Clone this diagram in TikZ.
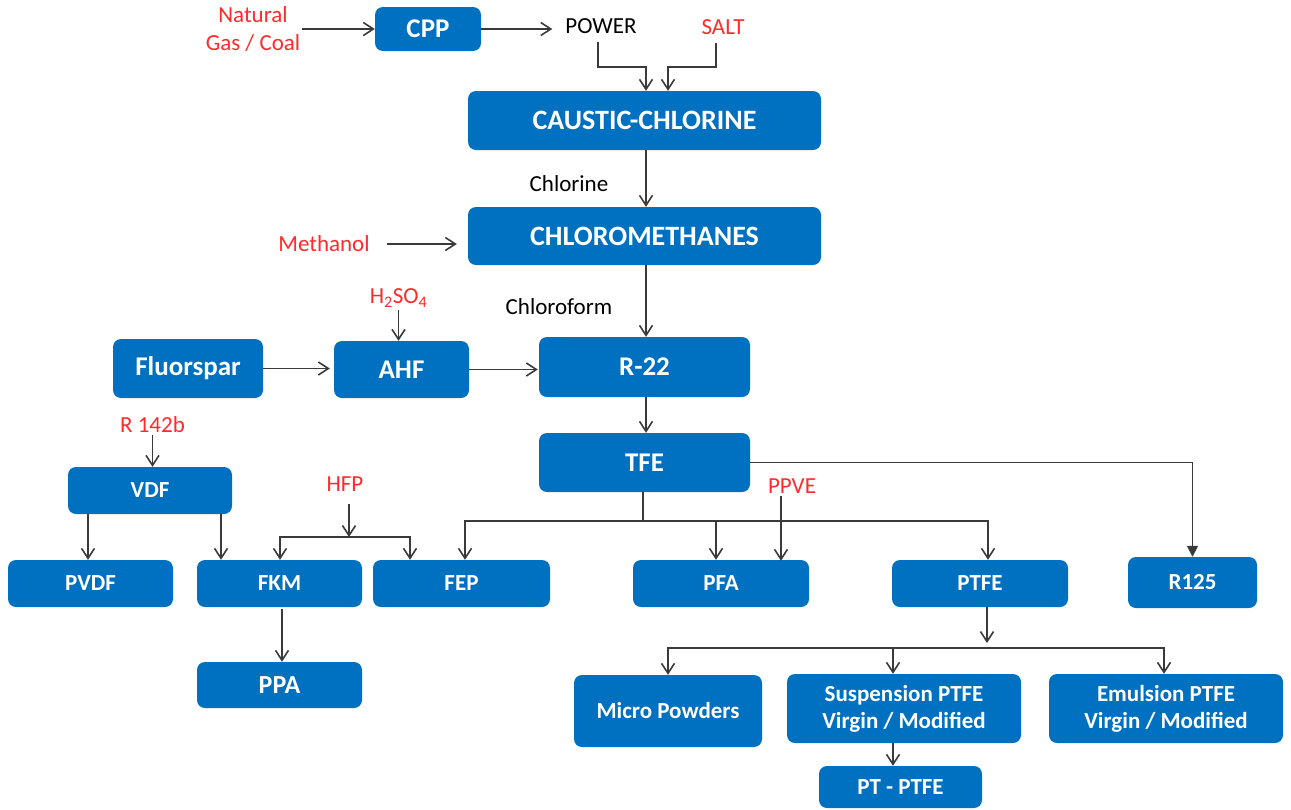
\documentclass[tikz,border=0pt]{standalone}
\usepackage{fontspec}
\setmainfont{Carlito}
\usetikzlibrary{arrows.meta}
\definecolor{boxblue}{HTML}{0070C0}
\definecolor{lblred}{HTML}{FF2A2A}
\definecolor{linegray}{HTML}{3A3A3A}
\begin{document}
\begin{tikzpicture}[x=1pt,y=-1pt,
  box/.style={fill=boxblue, rounded corners=8pt, text=white, inner sep=0pt, align=center,
    font=\bfseries\fontsize{23}{27}\selectfont},
  bigbox/.style={box, font=\bfseries\fontsize{28}{32}\selectfont},
  midbox/.style={box, font=\bfseries\fontsize{27}{31}\selectfont},
  lab/.style={inner sep=2pt, align=center, font=\fontsize{23}{28}\selectfont, text=black},
  redlab/.style={lab, text=lblred},
  conn/.style={draw=linegray, line width=1.6pt},
  arr/.style={conn, -{Straight Barb[length=10pt,width=13pt,line width=1.6pt]}},
  farr/.style={conn, -{Triangle[length=11pt,width=11pt]}},
]
\useasboundingbox (0,0) rectangle (1291,809);

% boxes
\node[midbox, minimum width=106, minimum height=44] (cpp) at (428,29) {CPP};
\node[bigbox, minimum width=353, minimum height=59] (caustic) at (644.5,120.5) {CAUSTIC-CHLORINE};
\node[bigbox, minimum width=353, minimum height=58] (chloro) at (644.5,236) {CHLOROMETHANES};
\node[midbox, minimum width=211, minimum height=60] (r22) at (644.5,367) {R-22};
\node[midbox, minimum width=150, minimum height=59] (fl) at (188,368.5) {Fluorspar};
\node[midbox, minimum width=135, minimum height=57] (ahf) at (401.5,369.5) {AHF};
\node[midbox, minimum width=211, minimum height=59] (tfe) at (644.5,462.5) {TFE};
\node[box, minimum width=164, minimum height=47] (vdf) at (150,490.5) {VDF};
\node[box, minimum width=165, minimum height=47] (pvdf) at (90.5,583.5) {PVDF};
\node[box, minimum width=165, minimum height=47] (fkm) at (279.5,583.5) {FKM};
\node[box, minimum width=177, minimum height=47] (fep) at (461.5,583.5) {FEP};
\node[box, minimum width=176, minimum height=47] (pfa) at (721,583.5) {PFA};
\node[box, minimum width=176, minimum height=47] (ptfe) at (980,583.5) {PTFE};
\node[box, minimum width=129, minimum height=51] (r125) at (1192.5,582.5) {R125};
\node[midbox, font=\bfseries\fontsize{26}{30}\selectfont, minimum width=165, minimum height=46] (ppa) at (279.5,685) {PPA};
\node[box, minimum width=188, minimum height=72] (micro) at (668,711) {Micro Powders};
\node[box, minimum width=234, minimum height=69] (susp) at (904,708.5) {Suspension PTFE\\Virgin / Modified};
\node[box, minimum width=234, minimum height=69] (emul) at (1166,708.5) {Emulsion PTFE\\Virgin / Modified};
\node[box, minimum width=163, minimum height=42] (ptpt) at (900.5,787) {PT - PTFE};

% labels
\node[redlab] (ng) at (253,29) {Natural\\Gas / Coal};
\node[lab] (power) at (601,26) {POWER};
\node[redlab] (salt) at (723,27) {SALT};
\node[lab] (chlorine) at (569,184) {Chlorine};
\node[redlab] (meth) at (324,244) {Methanol};
\node[lab] (chf) at (559,307) {Chloroform};
\node[redlab] (h2so4) at (398.5,298) {H\textsubscript{2}SO\textsubscript{4}};
\node[redlab] (r142) at (152.5,425) {R 142b};
\node[redlab] (hfp) at (345,484) {HFP};
\node[redlab] (ppve) at (792,486) {PPVE};

% junctions
\coordinate (pw) at (646,67);
\coordinate (sj) at (668,67);
\coordinate (tb) at (643,521);
\coordinate (hb) at (349,537);
\coordinate (pb) at (987,648);

% connectors
\draw[arr] (ng.east) -- (ng.east -| cpp.west);
\draw[arr, shorten >=11pt] (cpp.east) -- (cpp.east -| power.west);
\draw[arr, shorten <=6pt] ([xshift=-3pt]power.south) |- (pw) -- (pw |- caustic.north);
\draw[arr, shorten <=6pt] ([xshift=-7pt]salt.south) |- (sj) -- (sj |- caustic.north);
\draw[arr] ([xshift=1.5pt]caustic.south) -- ([xshift=1.5pt]chloro.north);
\draw[arr, shorten <=15pt, shorten >=11pt] (meth.east) -- (meth.east -| chloro.west);
\draw[arr] ([xshift=1.5pt]chloro.south) -- ([xshift=1.5pt]r22.north);
\draw[arr] (h2so4.south) -- (h2so4.south |- ahf.north);
\draw[arr, shorten >=4pt] (fl.east) -- (fl.east -| ahf.west);
\draw[arr, shorten >=1pt] (ahf.east) -- (ahf.east -| r22.west);
\draw[arr] ([xshift=1.5pt]r22.south) -- ([xshift=1.5pt]tfe.north);
\draw[farr] (tfe.east) -| (r125.north);
\draw[conn] ([xshift=-1.5pt]tfe.south) -- (tb);
\draw[arr] (tb) -| ([xshift=3.5pt]fep.north);
\draw[arr] (tb) -| ([xshift=-5pt]pfa.north);
\draw[arr] (tb) -| ([xshift=8pt]ptfe.north);
\draw[arr] ([xshift=-11pt]ppve.south) -- ([xshift=-11pt,yshift=-1pt]ppve.south |- pfa.north);
\draw[arr] (r142.south) -- (r142.south |- vdf.north);
\draw[arr] ([xshift=-2.5pt]pvdf.north |- vdf.south) -- ([xshift=-2.5pt]pvdf.north);
\draw[arr] ([xshift=-58.5pt]fkm.north |- vdf.south) -- ([xshift=-58.5pt]fkm.north);
\draw[arr, shorten <=10pt] ([xshift=4pt]hfp.south) -- (hb);
\draw[arr] (hb) -| ([xshift=0.5pt]fkm.north);
\draw[arr] (hb) -| ([xshift=-51.5pt]fep.north);
\draw[arr, shorten <=2pt] ([xshift=2.5pt]fkm.south) -- ([xshift=2.5pt]ppa.north);
\draw[arr, shorten >=5pt] ([xshift=7pt]ptfe.south) -- (pb);
\draw[arr] (pb) -| (micro.north);
\draw[arr] (pb) -| ([xshift=-11pt]susp.north);
\draw[arr] (pb) -| ([xshift=-2pt]emul.north);
\draw[arr] ([xshift=-11pt]susp.south) -- ([xshift=-11pt]susp.south |- ptpt.north);
\end{tikzpicture}
\end{document}
